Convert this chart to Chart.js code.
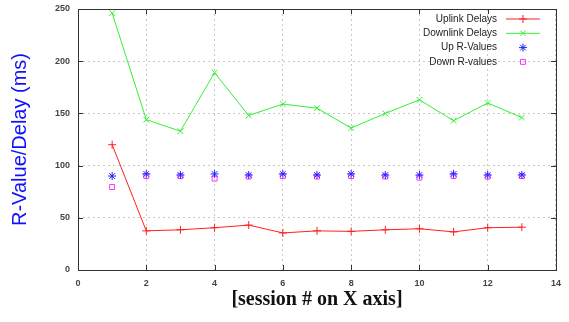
<!DOCTYPE html>
<html>
<head>
<meta charset="utf-8">
<script src="https://cdn.jsdelivr.net/npm/chart.js@4/dist/chart.umd.min.js"></script>
<style>
  html, body { margin: 0; padding: 0; background: #fff; }
  #wrap { width: 569px; height: 322px; }
</style>
</head>
<body>
<div id="wrap"><canvas id="delayChart"></canvas></div>
<script>
// data
const sessions = [1, 2, 3, 4, 5, 6, 7, 8, 9, 10, 11, 12, 13];
const uplinkDelays = [120, 37.5, 38.5, 40.5, 43, 35.5, 37.5, 37, 38.5, 39.5, 36.5, 40.5, 41];
const downlinkDelays = [246, 144, 133, 189, 148, 159, 155, 136, 150, 163, 143, 160, 146];
const upRValues = [90, 92, 91, 92, 91, 92, 91, 92, 91, 91, 92, 91, 91];
const downRValues = [79.5, 90, 90, 87.5, 89.5, 90, 89.5, 90, 89.5, 88.5, 90, 89.5, 90];
const seriesNames = ["Uplink Delays", "Downlink Delays", "Up R-Values", "Down R-values"];

const toPoints = (vals) => vals.map((v, i) => ({ x: sessions[i], y: v }));

// box around plot area with small inward ticks (gnuplot style)
const framePlugin = {
  id: "frame",
  afterDatasetsDraw(chart) {
    const { ctx, chartArea: a, scales } = chart;
    ctx.save();
    ctx.strokeStyle = "#333";
    ctx.lineWidth = 1;
    ctx.strokeRect(a.left + 0.5, a.top + 0.5, a.right - a.left, a.bottom - a.top);
    ctx.beginPath();
    scales.x.ticks.forEach((t) => {
      const px = Math.round(scales.x.getPixelForValue(t.value)) + 0.5;
      ctx.moveTo(px, a.bottom); ctx.lineTo(px, a.bottom - 5);
      ctx.moveTo(px, a.top); ctx.lineTo(px, a.top + 5);
    });
    scales.y.ticks.forEach((t) => {
      const py = Math.round(scales.y.getPixelForValue(t.value)) + 0.5;
      ctx.moveTo(a.left, py); ctx.lineTo(a.left + 5, py);
      ctx.moveTo(a.right, py); ctx.lineTo(a.right - 5, py);
    });
    ctx.stroke();
    ctx.restore();
  },
};

// legend inside the top right: text right-aligned, sample on the right
const keyPlugin = {
  id: "key",
  afterDraw(chart) {
    const { ctx, chartArea: a } = chart;
    const textRight = a.right - 59;
    const sx0 = a.right - 50, sx1 = a.right - 16, mid = (sx0 + sx1) / 2;
    ctx.save();
    ctx.font = "10px 'Liberation Sans', Arial, sans-serif";
    ctx.textAlign = "right";
    ctx.textBaseline = "middle";
    chart.data.datasets.forEach((ds, i) => {
      const y = a.top + 10 + i * 14.3;
      ctx.fillStyle = "#222";
      ctx.fillText(seriesNames[i], textRight, y);
      ctx.strokeStyle = ds.borderColor;
      ctx.fillStyle = ds.backgroundColor;
      ctx.lineWidth = 1;
      if (ds.showLine) {
        ctx.beginPath();
        ctx.moveTo(sx0, y); ctx.lineTo(sx1, y);
        ctx.stroke();
      }
      Chart.helpers.drawPoint(ctx, {
        pointStyle: ds.pointStyle, radius: ds.pointRadius, borderWidth: 1,
      }, mid, y);
    });
    ctx.restore();
  },
};

const tickFont = { family: "'Liberation Sans', Arial, sans-serif", size: 9, weight: "bold" };

const ctx = document.getElementById("delayChart").getContext("2d");
const delayChart = new Chart(ctx, {
  type: "line",
  data: {
    datasets: [
      {
        label: seriesNames[0],
        data: toPoints(uplinkDelays),
        borderColor: "#ff2020",
        backgroundColor: "#ff2020",
        borderWidth: 1,
        pointStyle: "cross",
        pointRadius: 4,
        pointBorderWidth: 1,
        showLine: true,
      },
      {
        label: seriesNames[1],
        data: toPoints(downlinkDelays),
        borderColor: "#33f033",
        backgroundColor: "#33f033",
        borderWidth: 1,
        pointStyle: "crossRot",
        pointRadius: 4,
        pointBorderWidth: 1,
        showLine: true,
      },
      {
        label: seriesNames[2],
        data: toPoints(upRValues),
        borderColor: "#2020ff",
        backgroundColor: "#2020ff",
        pointStyle: "star",
        pointRadius: 4,
        pointBorderWidth: 1,
        showLine: false,
      },
      {
        label: seriesNames[3],
        data: toPoints(downRValues),
        borderColor: "#ff33ff",
        backgroundColor: "rgba(0,0,0,0)",
        pointStyle: "rect",
        pointRadius: 3.5,
        pointBorderWidth: 1,
        showLine: false,
      },
    ],
  },
  options: {
    responsive: true,
    maintainAspectRatio: false,
    animation: false,
    layout: { padding: { top: 9, right: 12, left: 0, bottom: 0 } },
    plugins: {
      legend: { display: false },
      tooltip: { enabled: false },
    },
    scales: {
      x: {
        type: "linear",
        min: 0,
        max: 14,
        ticks: { stepSize: 2, color: "#444", font: tickFont, padding: 8 },
        grid: { color: "#c8c8c8", drawTicks: false },
        border: { display: false, dash: [2, 3] },
        title: {
          display: true,
          text: "[session # on X axis]",
          color: "#111",
          font: { family: "'Liberation Serif', 'Times New Roman', serif", size: 20, weight: "bold" },
          padding: { top: 0, bottom: 10 },
        },
        afterFit(scale) { scale.height = 52; },
      },
      y: {
        min: 0,
        max: 250,
        ticks: { stepSize: 50, color: "#444", font: tickFont, padding: 8 },
        grid: { color: "#c8c8c8", drawTicks: false },
        border: { display: false, dash: [2, 3] },
        title: {
          display: true,
          text: "R-Value/Delay (ms)",
          color: "#1010ff",
          font: { family: "'Liberation Sans', Arial, sans-serif", size: 20 },
          padding: { top: 8, bottom: 0 },
        },
        afterFit(scale) {
          scale.width = 78;
          scale.paddingTop = 0;
          scale.paddingBottom = 0;
        },
      },
    },
  },
  plugins: [framePlugin, keyPlugin],
});
</script>
</body>
</html>
